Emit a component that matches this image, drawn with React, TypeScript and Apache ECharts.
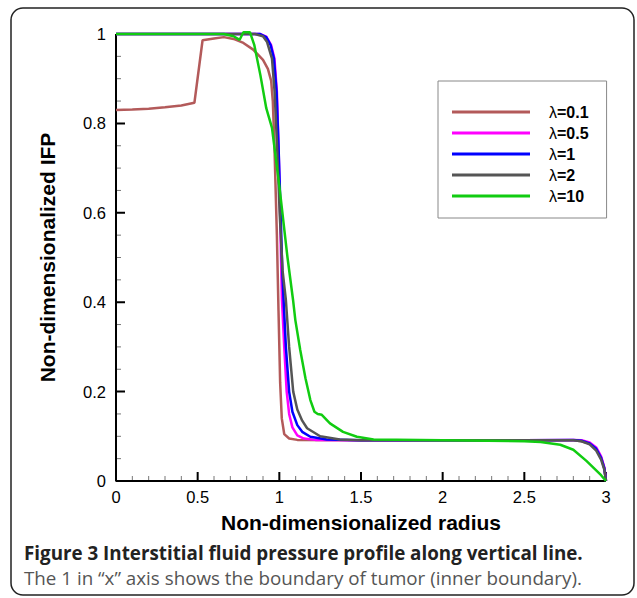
import React, { useEffect, useRef } from "react";
import * as echarts from "echarts";

const seriesNames = ["λ=0.1", "λ=0.5", "λ=1", "λ=2", "λ=10"];
const seriesColors = ["#b35a5a", "#ff00ff", "#0000ff", "#555555", "#11cc11"];

const xTicks = [0, 0.5, 1, 1.5, 2, 2.5, 3];
const yTicks = [0, 0.2, 0.4, 0.6, 0.8, 1];
const xMinorPerMajor = 5;
const yMinorPerMajor = 4;

const lambda01 = [
  [0, 0.83], [0.1, 0.831], [0.2, 0.833], [0.3, 0.836], [0.4, 0.84], [0.48, 0.846],
  [0.53, 0.986], [0.6, 0.99], [0.66, 0.993], [0.72, 0.989], [0.78, 0.98], [0.84, 0.965],
  [0.9, 0.942], [0.93, 0.922], [0.95, 0.895], [0.96, 0.85], [0.97, 0.75], [0.985, 0.55],
  [0.995, 0.38], [1.005, 0.22], [1.015, 0.14], [1.03, 0.105], [1.06, 0.095], [1.11, 0.092],
  [1.5, 0.091], [2.0, 0.091], [2.5, 0.091], [2.8, 0.091], [2.85, 0.089], [2.9, 0.084],
  [2.94, 0.072], [2.97, 0.052], [2.99, 0.028], [3, 0],
];

const lambda05 = [
  [0, 1], [0.88, 1], [0.92, 0.994], [0.95, 0.975], [0.97, 0.945], [0.985, 0.871],
  [0.995, 0.75], [1.005, 0.6], [1.012, 0.47], [1.016, 0.405], [1.03, 0.3], [1.045, 0.2],
  [1.06, 0.15], [1.08, 0.12], [1.11, 0.102], [1.15, 0.095], [1.22, 0.092], [1.5, 0.091],
  [2.0, 0.091], [2.5, 0.091], [2.8, 0.092], [2.85, 0.091], [2.9, 0.086], [2.94, 0.075],
  [2.97, 0.055], [2.99, 0.03], [3, 0],
];

const lambda1 = [
  [0, 1], [0.88, 1], [0.92, 0.993], [0.947, 0.975], [0.967, 0.945], [0.983, 0.871],
  [0.995, 0.75], [1.008, 0.6], [1.018, 0.47], [1.026, 0.405], [1.04, 0.3], [1.06, 0.2],
  [1.08, 0.155], [1.11, 0.125], [1.14, 0.11], [1.19, 0.099], [1.29, 0.093], [1.5, 0.091],
  [2.0, 0.091], [2.5, 0.091], [2.8, 0.092], [2.85, 0.09], [2.9, 0.084], [2.94, 0.072],
  [2.97, 0.052], [2.99, 0.028], [3, 0],
];

const lambda2 = [
  [0, 1], [0.85, 1], [0.9, 0.995], [0.925, 0.982], [0.955, 0.945], [0.971, 0.871],
  [0.986, 0.752], [1.002, 0.6], [1.02, 0.47], [1.04, 0.405], [1.06, 0.3], [1.085, 0.2],
  [1.11, 0.16], [1.14, 0.135], [1.17, 0.118], [1.25, 0.1], [1.37, 0.093], [1.5, 0.091],
  [2.0, 0.091], [2.5, 0.091], [2.8, 0.091], [2.85, 0.089], [2.9, 0.082], [2.94, 0.068],
  [2.97, 0.048], [2.99, 0.025], [3, 0],
];

const lambda10 = [
  [0, 1], [0.66, 1], [0.72, 0.995], [0.757, 0.987], [0.78, 1.004], [0.82, 1.004],
  [0.847, 0.975], [0.884, 0.908], [0.92, 0.834], [0.955, 0.79], [1.0, 0.66], [1.05, 0.5],
  [1.084, 0.405], [1.098, 0.36], [1.128, 0.293], [1.16, 0.23], [1.19, 0.181], [1.215, 0.155],
  [1.235, 0.15], [1.26, 0.148], [1.31, 0.129], [1.39, 0.11], [1.475, 0.099], [1.577, 0.093],
  [2.0, 0.091], [2.5, 0.089], [2.6, 0.087], [2.72, 0.081], [2.8, 0.07], [2.88, 0.045],
  [2.97, 0.013], [3, 0],
];

const seriesData = [lambda01, lambda05, lambda1, lambda2, lambda10];

const captionBold = "Figure 3 Interstitial fluid pressure profile along vertical line.";
const captionNormal = "The 1 in \u201cx\u201d axis shows the boundary of tumor (inner boundary).";

function minorValues(ticks: number[], per: number): number[] {
  const out: number[] = [];
  for (let i = 0; i < ticks.length - 1; i++) {
    const step = (ticks[i + 1] - ticks[i]) / per;
    for (let k = 1; k < per; k++) out.push(ticks[i] + step * k);
  }
  return out;
}

const CHART_W = 637;
const CHART_H = 598;
const GRID = { left: 116, right: 31, top: 34, bottom: 117 };

export default function App() {
  const ref = useRef<HTMLDivElement>(null);

  useEffect(() => {
    if (!ref.current) return;
    const chart = echarts.init(ref.current, null, { renderer: "svg" });
    const axisFont = "Liberation Sans, Arial, sans-serif";
    const xMin = xTicks[0];
    const xMax = xTicks[xTicks.length - 1];
    const yMin = yTicks[0];
    const yMax = yTicks[yTicks.length - 1];

    // tick lengths converted from pixels into axis units
    const plotW = CHART_W - GRID.left - GRID.right;
    const plotH = CHART_H - GRID.top - GRID.bottom;
    const unitX = (xMax - xMin) / plotW;
    const unitY = (yMax - yMin) / plotH;
    const majorLen = 9;
    const minorLen = 5;

    const frameData: any[] = [[xMin, yMax], [xMin, yMin], [xMax, yMin]];
    const majorTickData: any[] = [];
    xTicks.forEach((v) => {
      majorTickData.push([v, yMin], [v, yMin + majorLen * unitY], [v, "-"]);
    });
    yTicks.forEach((v) => {
      majorTickData.push([xMin, v], [xMin + majorLen * unitX, v], [xMin, "-"]);
    });
    const minorTickData: any[] = [];
    minorValues(xTicks, xMinorPerMajor).forEach((v) => {
      minorTickData.push([v, yMin], [v, yMin + minorLen * unitY], [v, "-"]);
    });
    minorValues(yTicks, yMinorPerMajor).forEach((v) => {
      minorTickData.push([xMin, v], [xMin + minorLen * unitX, v], [xMin, "-"]);
    });

    const axisPart = (name: string, data: any[], color: string, width: number) => ({
      name,
      type: "line",
      data,
      showSymbol: false,
      symbol: "none",
      connectNulls: false,
      clip: false,
      silent: true,
      color,
      lineStyle: { color, width, cap: "butt" },
      emphasis: { disabled: true },
      z: 1,
    });

    chart.setOption({
      animation: false,
      backgroundColor: "#ffffff",
      grid: GRID,
      legend: {
        data: seriesNames,
        orient: "vertical",
        left: 438,
        top: 81,
        padding: [23, 18, 14, 14],
        icon: "rect",
        itemWidth: 78,
        itemHeight: 3,
        itemGap: 5,
        borderColor: "#888888",
        borderWidth: 1,
        formatter: (name: string) => `{l|λ}{b|${name.slice(1)}}`,
        textStyle: {
          padding: [0, 0, 0, 14],
          rich: {
            l: { fontFamily: axisFont, fontSize: 16, color: "#000" },
            b: { fontFamily: axisFont, fontSize: 16, fontWeight: "bold", color: "#000" },
          },
        },
      },
      xAxis: {
        type: "value",
        min: xMin,
        max: xMax,
        interval: 0.5,
        name: "Non-dimensionalized radius",
        nameLocation: "middle",
        nameGap: 31,
        nameTextStyle: { fontFamily: axisFont, fontSize: 21, fontWeight: "bold", color: "#000" },
        axisLine: { show: false },
        axisTick: { show: false },
        axisLabel: { fontFamily: axisFont, fontSize: 16.5, color: "#000", margin: 7 },
        splitLine: { show: false },
      },
      yAxis: {
        type: "value",
        min: yMin,
        max: yMax,
        interval: 0.2,
        name: "Non-dimensionalized IFP",
        nameLocation: "middle",
        nameGap: 58,
        nameTextStyle: { fontFamily: axisFont, fontSize: 21, fontWeight: "bold", color: "#000" },
        axisLine: { show: false },
        axisTick: { show: false },
        axisLabel: { fontFamily: axisFont, fontSize: 16.5, color: "#000", margin: 10 },
        splitLine: { show: false },
      },
      series: [
        axisPart("minor ticks", minorTickData, "#777777", 1),
        axisPart("major ticks", majorTickData, "#000000", 2),
        axisPart("axis frame", frameData, "#000000", 2),
        ...seriesNames.map((name, i) => ({
          name,
          type: "line",
          data: seriesData[i],
          showSymbol: false,
          symbol: "none",
          clip: false,
          color: seriesColors[i],
          lineStyle: { color: seriesColors[i], width: 2.5 },
          z: 2 + i,
        })),
      ],
      graphic: [
        {
          type: "rect",
          z: 100,
          silent: true,
          shape: { x: 11, y: 8, width: 623, height: 587, r: 12 },
          style: { fill: "transparent", stroke: "#222222", lineWidth: 1.5 },
        },
        {
          type: "text",
          x: 24,
          y: 553,
          style: {
            text: captionBold,
            fontFamily: "Open Sans, sans-serif",
            fontSize: 18.8,
            fontWeight: "bold",
            fill: "#222",
            verticalAlign: "middle",
          },
        },
        {
          type: "text",
          x: 24,
          y: 578,
          style: {
            text: captionNormal,
            fontFamily: "Open Sans, sans-serif",
            fontSize: 18.8,
            fill: "#555",
            verticalAlign: "middle",
          },
        },
      ],
    });
    return () => chart.dispose();
  }, []);

  return (
    <div
      ref={ref}
      style={{ position: "fixed", left: 0, top: 0, width: CHART_W, height: CHART_H, background: "#fff" }}
    />
  );
}
